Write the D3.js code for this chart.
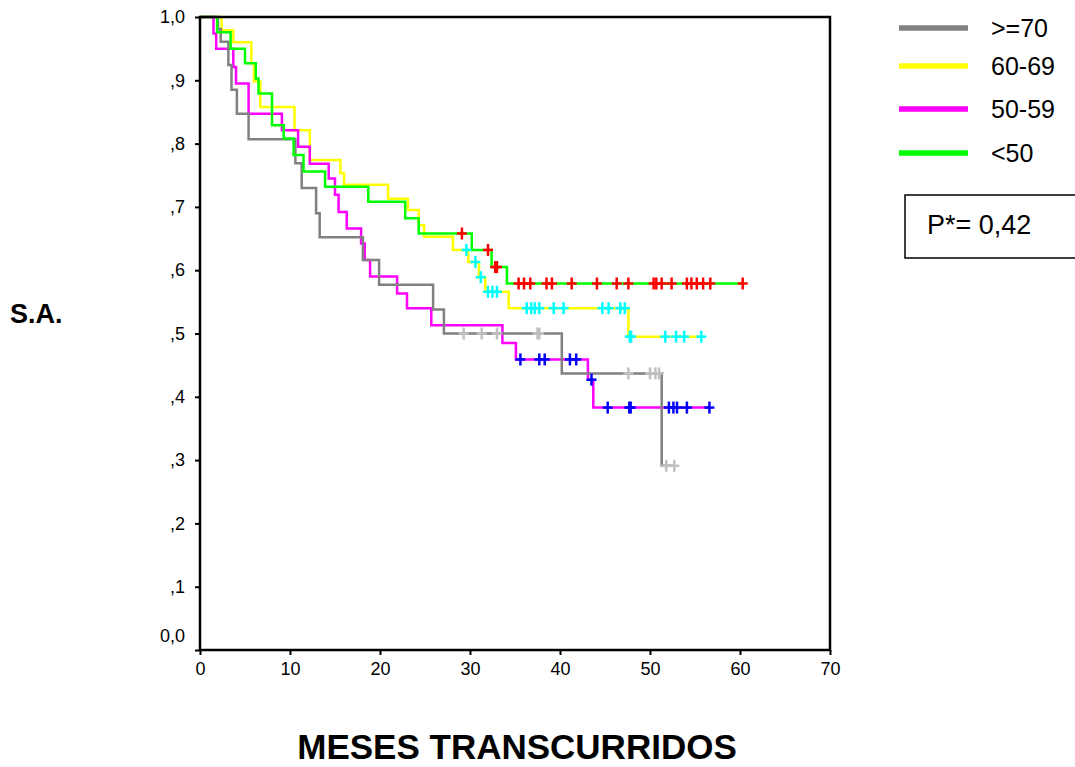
<!DOCTYPE html>
<html>
<head>
<meta charset="utf-8">
<script src="https://cdn.jsdelivr.net/npm/d3@7"></script>
<style>
  body { margin: 0; background: #fff; }
  text { font-family: "Liberation Sans", Arial, sans-serif; }
</style>
</head>
<body>
<svg id="chart" width="1075" height="767"></svg>
<script>
// groups, in legend order
var groups = [">=70", "60-69", "50-59", "<50"];
var lineColors = ["#808080", "#ffff00", "#ff00ff", "#00ff00"];
var censorColors = ["#c0c0c0", "#00ffff", "#0000ff", "#ff0000"];

// survival steps: [months, survival after the drop]
var stepsGe70 = [[2.0, 0.981], [2.3, 0.961], [3.15, 0.924], [3.5, 0.885], [4.1, 0.847], [5.4, 0.807],
  [10.6, 0.769], [11.3, 0.730], [12.9, 0.690], [13.3, 0.652], [18.1, 0.616], [19.9, 0.577],
  [25.9, 0.538], [27.1, 0.500], [40.2, 0.437], [51.3, 0.291]];
var steps6069 = [[2.4, 0.979], [3.7, 0.960], [5.7, 0.927], [6.0, 0.898], [6.7, 0.858], [10.5, 0.821],
  [12.2, 0.774], [15.6, 0.753], [16.0, 0.735], [20.9, 0.713], [23.1, 0.695], [24.3, 0.671],
  [24.9, 0.653], [28.1, 0.632], [29.8, 0.613], [31.0, 0.589], [31.7, 0.566], [34.3, 0.540],
  [47.6, 0.495]];
var steps5059 = [[1.5, 0.974], [1.8, 0.950], [3.7, 0.921], [4.0, 0.895], [5.4, 0.847], [9.1, 0.821],
  [10.9, 0.795], [12.2, 0.768], [14.3, 0.745], [15.0, 0.719], [15.4, 0.692], [16.3, 0.666],
  [17.9, 0.642], [18.3, 0.616], [18.9, 0.590], [21.9, 0.563], [23.0, 0.540], [25.7, 0.513],
  [33.6, 0.485], [35.1, 0.459], [43.1, 0.427], [43.7, 0.383]];
var stepsLt50 = [[1.9, 0.976], [3.4, 0.950], [5.0, 0.927], [6.2, 0.903], [6.5, 0.879], [8.0, 0.829],
  [9.3, 0.808], [10.4, 0.782], [11.5, 0.756], [13.9, 0.732], [18.7, 0.708], [22.8, 0.682],
  [24.3, 0.658], [30.2, 0.632], [32.4, 0.605], [34.1, 0.579]];

// censored cases (months)
var censGe70 = [29.3, 31.3, 33.0, 37.5, 37.7, 47.6, 50.0, 50.6, 51.0, 51.8, 52.7];
var cens6069 = [29.6, 30.6, 31.2, 32.0, 32.5, 33.0, 36.3, 36.8, 37.2, 37.7, 39.3, 40.4, 44.7, 45.4,
  46.7, 47.2, 47.75, 47.9, 51.7, 52.9, 53.8, 55.7];
var cens5059 = [35.6, 37.7, 38.3, 41.1, 41.8, 43.5, 45.3, 47.7, 47.85, 52.1, 52.6, 53.0, 54.1, 56.6];
var censLt50 = [29.1, 32.0, 32.8, 33.0, 35.4, 36.0, 36.7, 38.5, 39.1, 41.3, 44.1, 46.3, 47.6, 50.4,
  50.7, 51.3, 52.4, 54.1, 54.6, 55.2, 55.9, 56.7, 60.3];

var xTicks = [0, 10, 20, 30, 40, 50, 60, 70];
var yTicks = [0, 0.1, 0.2, 0.3, 0.4, 0.5, 0.6, 0.7, 0.8, 0.9, 1.0];
var yTickLabels = ["0,0", ",1", ",2", ",3", ",4", ",5", ",6", ",7", ",8", ",9", "1,0"];

var allSteps = [stepsGe70, steps6069, steps5059, stepsLt50];
var allCens = [censGe70, cens6069, cens5059, censLt50];

var svg = d3.select("#chart");

var x = d3.scaleLinear().domain([0, 70]).range([200, 830]);
var y = d3.scaleLinear().domain([0, 1]).range([650, 17]);

function survAt(steps, t) {
  var s = 1;
  steps.forEach(function(d) { if (d[0] <= t) s = d[1]; });
  return s;
}

var line = d3.line()
  .x(function(d) { return x(d[0]); })
  .y(function(d) { return y(d[1]); })
  .curve(d3.curveStepAfter);

// curves, drawn in this order
var order = [1, 2, 0, 3];
order.forEach(function(i) {
  var steps = allSteps[i];
  var end = d3.max([d3.max(allCens[i]), steps[steps.length - 1][0]]);
  var pts = [[0, 1]].concat(steps, [[end, steps[steps.length - 1][1]]]);
  svg.append("path")
    .attr("d", line(pts))
    .attr("fill", "none")
    .attr("stroke", lineColors[i])
    .attr("stroke-width", 2.5);
});

// censor marks
order.forEach(function(i) {
  var g = svg.append("g").attr("stroke", censorColors[i]).attr("stroke-width", 2.5);
  allCens[i].forEach(function(t) {
    var cx = x(t), cy = y(survAt(allSteps[i], t));
    g.append("line").attr("x1", cx).attr("x2", cx).attr("y1", cy - 6).attr("y2", cy + 6);
    g.append("line").attr("x1", cx - 5).attr("x2", cx + 5).attr("y1", cy).attr("y2", cy);
  });
});

// frame
svg.append("rect")
  .attr("x", 200).attr("y", 17)
  .attr("width", 630).attr("height", 633)
  .attr("fill", "none").attr("stroke", "#000").attr("stroke-width", 2.5);

// axes
var xAxis = d3.axisBottom(x).tickValues(xTicks).tickSize(5).tickPadding(7);
var gx = svg.append("g").attr("transform", "translate(0,650)").call(xAxis);
gx.select(".domain").remove();
gx.selectAll("line").attr("stroke-width", 2);
gx.selectAll("text").attr("font-size", 18).attr("fill", "#000")
  .style("font-family", "'Liberation Sans', Arial, sans-serif");

var yAxis = d3.axisLeft(y).tickValues(yTicks).tickSize(5).tickPadding(10)
  .tickFormat(function(d, i) { return yTickLabels[i]; });
var gy = svg.append("g").attr("transform", "translate(200,0)").call(yAxis);
gy.select(".domain").remove();
gy.selectAll("line").attr("stroke-width", 2);
gy.selectAll("text").attr("font-size", 18).attr("fill", "#000")
  .style("font-family", "'Liberation Sans', Arial, sans-serif");
gy.selectAll(".tick").filter(function(d) { return d === 0; })
  .select("text").attr("dy", "-0.45em");

// axis titles
svg.append("text").attr("x", 10).attr("y", 323)
  .attr("font-size", 27).attr("font-weight", "bold").text("S.A.");
svg.append("text").attr("x", 517).attr("y", 759).attr("text-anchor", "middle")
  .attr("font-size", 35).attr("font-weight", "bold").text("MESES TRANSCURRIDOS");

// legend
var legendY = [28, 66, 109, 153];
groups.forEach(function(name, i) {
  svg.append("line")
    .attr("x1", 899).attr("x2", 968)
    .attr("y1", legendY[i]).attr("y2", legendY[i])
    .attr("stroke", lineColors[i]).attr("stroke-width", 5.5);
  svg.append("text")
    .attr("x", 991).attr("y", legendY[i] + 9)
    .attr("font-size", 25).text(name);
});

// p value box
svg.append("rect")
  .attr("x", 905).attr("y", 195).attr("width", 180).attr("height", 63)
  .attr("fill", "none").attr("stroke", "#000").attr("stroke-width", 1.5);
svg.append("text").attr("x", 927).attr("y", 234)
  .attr("font-size", 27).text("P*= 0,42");
</script>
</body>
</html>
